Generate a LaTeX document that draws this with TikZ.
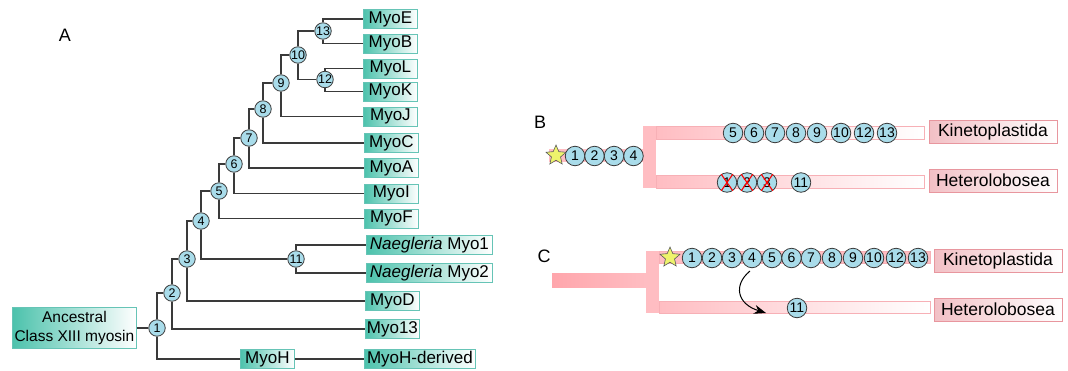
\documentclass[tikz,border=0pt]{standalone}
\usepackage{fontspec}
\setmainfont{Liberation Sans}
\usetikzlibrary{shapes.geometric,arrows.meta}
\definecolor{tealf}{HTML}{4CC2AC}
\definecolor{tealb}{HTML}{66C4B6}
\definecolor{cblue}{HTML}{A9DCEA}
\definecolor{bandpink}{HTML}{FFBDC2}
\definecolor{stemdark}{HTML}{FFA6AC}
\definecolor{bandline}{HTML}{F7B0B6}
\definecolor{labf}{HTML}{F2C0C5}
\definecolor{labl}{HTML}{E8969E}
\definecolor{stargreen}{HTML}{EEF36C}
\definecolor{treeline}{HTML}{3A3A3A}
\begin{document}
\begin{tikzpicture}[x=1pt,y=-1pt,
  leaf/.style={draw=tealb, line width=0.8pt, left color=tealf, right color=white, minimum height=19pt, minimum width=54pt, inner sep=1pt, anchor=west, font=\fontsize{17}{17}\selectfont},
  numa/.style={circle, draw=treeline, fill=cblue, line width=0.8pt, minimum size=16.5pt, inner sep=0pt, font=\fontsize{12.5}{12.5}\selectfont},
  numb/.style={circle, draw=treeline, fill=cblue, line width=0.8pt, minimum size=19.5pt, inner sep=0pt, font=\fontsize{14}{14}\selectfont},
  tline/.style={draw=treeline, line width=1.2pt},
  lab/.style={draw=labl, line width=0.8pt, left color=labf, right color=white, minimum width=128pt, minimum height=23pt, inner sep=1pt, font=\fontsize{17.5}{17.5}\selectfont},
  bandedge/.style={draw=bandline, line width=0.8pt},
  starnode/.style={star, star points=5, star point ratio=2.2, minimum size=21pt, inner sep=0pt, fill=stargreen, draw=gray!70!black, line width=0.6pt},
  cross/.style={draw=red, line width=1.1pt},
  panel/.style={font=\fontsize{18}{18}\selectfont}
]
\useasboundingbox (0,0) rectangle (1068,370);

% ---------------- Panel A ----------------
\node[panel] (A) at (65,35) {A};

\node[leaf] (MyoE) at (363,19) {MyoE};
\node[leaf] (MyoB) at (363,43.5) {MyoB};
\node[leaf] (MyoL) at (363,68.5) {MyoL};
\node[leaf] (MyoK) at (363,91.5) {MyoK};
\node[leaf] (MyoJ) at (363,116.5) {MyoJ};
\node[leaf] (MyoC) at (364,143) {MyoC};
\node[leaf] (MyoA) at (364,168) {MyoA};
\node[leaf] (MyoI) at (364,193.5) {MyoI};
\node[leaf] (MyoF) at (364,218.5) {MyoF};
\node[leaf, minimum width=126pt] (NM1) at (366,245) {\textit{Naegleria} Myo1};
\node[leaf, minimum width=126pt] (NM2) at (366,273) {\textit{Naegleria} Myo2};
\node[leaf] (MyoD) at (365,301) {MyoD};
\node[leaf] (Myo13) at (365,329) {Myo13};
\node[leaf, minimum width=111pt] (MyoHd) at (364,359) {MyoH-derived};
\node[leaf] (MyoH) at (240,359) {MyoH};
\node[leaf, minimum width=124pt, minimum height=41pt, align=center, font=\fontsize{15.5}{19}\selectfont] (anc) at (12,328) {Ancestral\\Class XIII myosin};

\node[numa] (n13) at (323,31) {13};
\node[numa] (n12) at (325,79.5) {12};
\node[numa] (n10) at (298,55) {10};
\node[numa] (n9) at (281,83) {9};
\node[numa] (n8) at (263,109) {8};
\node[numa] (n7) at (249,138) {7};
\node[numa] (n6) at (234,164) {6};
\node[numa] (n5) at (219,191) {5};
\node[numa] (n11) at (296,259) {11};
\node[numa] (n4) at (201,221) {4};
\node[numa] (n3) at (187,259) {3};
\node[numa] (n2) at (172,293) {2};
\node[numa] (n1) at (157,328) {1};

\draw[tline] (n13) |- (MyoE.west);
\draw[tline] (n13) |- (MyoB.west);
\draw[tline] (n12) |- (MyoL.west);
\draw[tline] (n12) |- (MyoK.west);
\draw[tline] (n10) |- (n13);
\draw[tline] (n10) |- (n12);
\draw[tline] (n9) |- (n10);
\draw[tline] (n9) |- (MyoJ.west);
\draw[tline] (n8) |- (n9);
\draw[tline] (n8) |- (MyoC.west);
\draw[tline] (n7) |- (n8);
\draw[tline] (n7) |- (MyoA.west);
\draw[tline] (n6) |- (n7);
\draw[tline] (n6) |- (MyoI.west);
\draw[tline] (n5) |- (n6);
\draw[tline] (n5) |- (MyoF.west);
\draw[tline] (n11) |- (NM1.west);
\draw[tline] (n11) |- (NM2.west);
\draw[tline] (n4) |- (n5);
\draw[tline] (n4) |- (n11);
\draw[tline] (n3) |- (n4);
\draw[tline] (n3) |- (MyoD.west);
\draw[tline] (n2) |- (n3);
\draw[tline] (n2) |- (Myo13.west);
\draw[tline] (n1) |- (n2);
\draw[tline] (n1) |- (MyoH.west);
\draw[tline] (MyoH) -- (MyoHd);
\draw[tline] (anc) -- (n1);

% ---------------- Panel B ----------------
\node[panel] (B) at (540,122) {B};
\fill[bandpink] (549,149) rectangle (643,162);
\fill[bandpink] (643,126) rectangle (656,188);
\draw[bandedge, left color=bandpink, right color=white] (656,126) rectangle (924,139);
\draw[bandedge, left color=bandpink, right color=white] (656,175) rectangle (924,188);

\node[starnode] (sB) at (556,155.5) {};
\node[numb] (b1) at (575,156) {1};
\node[numb] (b2) at (594.5,156) {2};
\node[numb] (b3) at (614,156) {3};
\node[numb] (b4) at (633.5,156) {4};

\node[numb] (b5) at (733,133) {5};
\node[numb] (b6) at (754,133) {6};
\node[numb] (b7) at (775,133) {7};
\node[numb] (b8) at (796,133) {8};
\node[numb] (b9) at (817,133) {9};
\node[numb] (b10) at (841,133) {10};
\node[numb] (b12) at (864,133) {12};
\node[numb] (b13) at (887,133) {13};

\node[numb] (x1) at (727,182.5) {1};
\node[numb] (x2) at (747,182.5) {2};
\node[numb] (x3) at (767,182.5) {3};
\node[numb] (b11) at (801,182.5) {11};
\foreach \c in {x1,x2,x3}{
  \draw[cross] (\c.125) -- (\c.-55);
  \draw[cross] (\c.55) -- (\c.-125);
}

\node[lab] (kinB) at (993,131.5) {Kinetoplastida};
\node[lab] (hetB) at (993,180.5) {Heterolobosea};

% ---------------- Panel C ----------------
\node[panel] (C) at (544,256) {C};
\shade[left color=stemdark, right color=bandpink] (552,273) rectangle (646,287);
\fill[bandpink] (646,251) rectangle (659,313);
\draw[bandedge, fill=bandpink] (659,251) rectangle (930,263);
\draw[bandedge, left color=bandpink, right color=white] (659,301) rectangle (930,313);

\node[starnode] (sC) at (670,257.5) {};
\node[numb] (c1) at (692,258) {1};
\node[numb] (c2) at (712,258) {2};
\node[numb] (c3) at (732,258) {3};
\node[numb] (c4) at (752,258) {4};
\node[numb] (c5) at (772,258) {5};
\node[numb] (c6) at (791.5,258) {6};
\node[numb] (c7) at (811,258) {7};
\node[numb] (c8) at (832,258) {8};
\node[numb] (c9) at (853,258) {9};
\node[numb] (c10) at (874,258) {10};
\node[numb] (c12) at (896,258) {12};
\node[numb] (c13) at (918,258) {13};
\node[numb] (c11) at (797,308) {11};

\coordinate (as) at (750,271);
\coordinate (ae) at (766,313);
\draw[line width=1pt, -{Stealth[length=12pt,width=9pt]}] (as) .. controls (733,285) and (737,304) .. (ae);

\node[lab] (kinC) at (998,260.5) {Kinetoplastida};
\node[lab] (hetC) at (998,309.5) {Heterolobosea};
\end{tikzpicture}
\end{document}
